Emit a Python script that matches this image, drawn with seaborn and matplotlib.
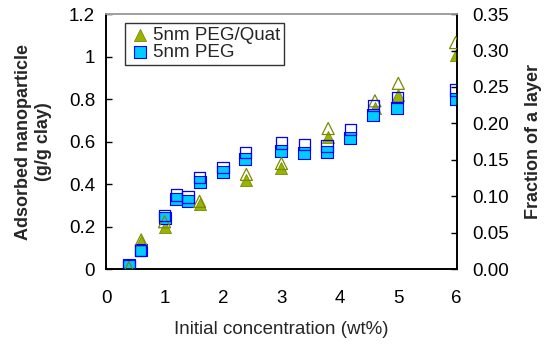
import numpy as np
import pandas as pd
import seaborn as sns
import matplotlib.pyplot as plt

# Initial concentration (wt%)
conc_quat = [0.39, 0.6, 1.0, 1.6, 2.4, 3.0, 3.8, 4.6, 5.0, 5.98]
conc_peg = [0.39, 0.59, 1.0, 1.2, 1.4, 1.6, 2.0, 2.38, 3.0, 3.39, 3.78, 4.18, 4.57, 4.98, 5.98]

# adsorbed nanoparticle (g/g clay), left axis, filled markers
ads_quat = [0.006, 0.128, 0.20, 0.306, 0.42, 0.474, 0.62, 0.756, 0.82, 1.007]
ads_peg = [0.02, 0.09, 0.24, 0.33, 0.32, 0.41, 0.455, 0.52, 0.557, 0.547, 0.552, 0.618, 0.725, 0.76, 0.80]

# fraction of a layer, right axis, open markers
frac_quat = [0.002, 0.040, 0.065, 0.093, 0.130, 0.145, 0.193, 0.231, 0.255, 0.311]
frac_peg = [0.005, 0.026, 0.074, 0.1016, 0.099, 0.126, 0.140, 0.160, 0.173, 0.1716, 0.169, 0.192, 0.225, 0.236, 0.246]

df_quat = pd.DataFrame({"conc": conc_quat, "ads": ads_quat, "frac": frac_quat})
df_peg = pd.DataFrame({"conc": conc_peg, "ads": ads_peg, "frac": frac_peg})

sns.set_style("white")
plt.rcParams['font.family'] = ['Liberation Sans', 'DejaVu Sans']

olive = "#99B400"
olive_edge = "#7A8A00"
cyan = "#00CCFF"
blue = "#0000FF"

fig = plt.figure(figsize=(5.47, 3.45), dpi=100)
ax1 = fig.add_axes([0.194, 0.22, 0.641, 0.739])
ax2 = ax1.twinx()

# filled markers on the left axis
sns.scatterplot(data=df_quat, x="conc", y="ads", ax=ax1, marker="^", s=75,
                color=olive, edgecolor=olive_edge, linewidth=0.6, label="5nm PEG/Quat", zorder=3)
sns.scatterplot(data=df_peg, x="conc", y="ads", ax=ax1, marker="s", s=65,
                color=cyan, edgecolor=blue, linewidth=0.8, label="5nm PEG", zorder=3)

# open markers on the right axis
sns.scatterplot(data=df_quat, x="conc", y="frac", ax=ax2, marker="^", s=75,
                facecolor="none", edgecolor=olive_edge, linewidth=0.9, zorder=3)
sns.scatterplot(data=df_peg, x="conc", y="frac", ax=ax2, marker="s", s=65,
                facecolor="none", edgecolor=blue, linewidth=0.9, zorder=3)

ax1.set_xlim(0, 6)
ax1.set_ylim(0, 1.2)
ax2.set_ylim(0, 0.35)
ax1.set_xticks(range(0, 7))
ax1.set_yticks([0, 0.2, 0.4, 0.6, 0.8, 1.0, 1.2])
ax1.set_yticklabels(["0", "0.2", "0.4", "0.6", "0.8", "1", "1.2"])
ax2.set_yticks(np.arange(0, 0.36, 0.05))
ax2.set_yticklabels([f"{v:.2f}" for v in np.arange(0, 0.36, 0.05)])

for ax in (ax1, ax2):
    ax.tick_params(direction="in", length=4, width=1, labelsize=13.5, colors="black")
    for side in ("left", "right", "bottom"):
        ax.spines[side].set_color("black")
        ax.spines[side].set_linewidth(1.2)
    ax.spines["top"].set_color("#A0A0A0")
    ax.spines["top"].set_linewidth(1.2)
ax1.tick_params(axis="x", pad=15)
ax1.tick_params(axis="y", pad=8)
ax2.tick_params(axis="y", pad=11)

ax1.set_xlabel("Initial concentration (wt%)", fontsize=13.5, labelpad=10)
ax1.set_ylabel("Adsorbed nanoparticle\n(g/g clay)", fontsize=13, fontweight="bold", labelpad=12)
ax2.set_ylabel("Fraction of a layer", fontsize=13, fontweight="bold", labelpad=12)
ax2.set_xlabel("")

handles, labels = ax1.get_legend_handles_labels()
ax1.get_legend().remove()
leg = ax2.legend(handles, labels, loc="upper left", bbox_to_anchor=(0.054, 0.965),
                 fontsize=13.5, frameon=True, fancybox=False, edgecolor="black",
                 handletextpad=0.1, borderpad=0.2, labelspacing=0.0,
                 handlelength=1.2, borderaxespad=0)
leg.get_frame().set_linewidth(1.0)

fig.savefig("out.png", dpi=100)
